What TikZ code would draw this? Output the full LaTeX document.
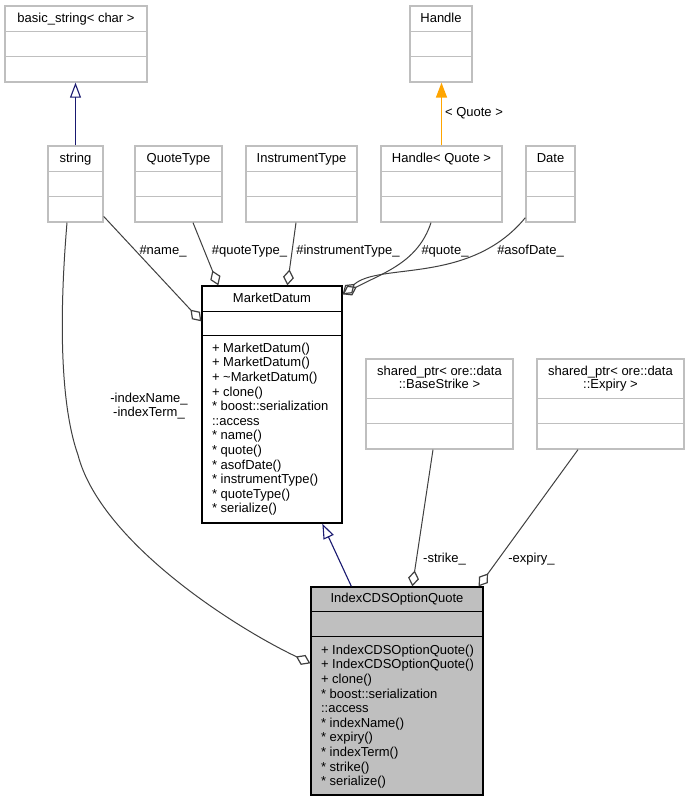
\documentclass[tikz,border=0pt]{standalone}
\usepackage{fontspec}
\setmainfont{Liberation Sans}
\usetikzlibrary{arrows.meta,calc}

\definecolor{edgegray}{HTML}{404040}
\definecolor{boxgray}{HTML}{BFBFBF}
\definecolor{inhblue}{HTML}{191970}
\definecolor{tplorange}{HTML}{FFA500}

% two horizontal compartment rules inside a class box
\newcommand\classrules[4]{%
  \draw[#1] ($(#2.north west)+(0,#3)$) -- ($(#2.north east)+(0,#3)$);
  \draw[#1] ($(#2.north west)+(0,#4)$) -- ($(#2.north east)+(0,#4)$);}

\begin{document}
\begin{tikzpicture}[x=1pt,y=-1pt,
  font=\fontsize{13}{14.6}\selectfont,
  classbox/.style={draw=boxgray, line width=1.3pt, rectangle, inner sep=0pt, fill=white},
  mainbox/.style={draw=black, line width=1.3pt, rectangle, inner sep=0pt},
  greyrule/.style={draw=boxgray, line width=1.3pt},
  blackrule/.style={draw=black, line width=1.3pt},
  title/.style={anchor=base, inner sep=0pt},
  member/.style={anchor=base west, inner sep=0pt},
  lbl/.style={anchor=base, inner sep=0pt},
  inherit/.style={color=inhblue, line width=1.1pt, -{Triangle[open, length=15pt, width=11pt]}},
  usage/.style={color=edgegray, line width=1pt, -{Diamond[open, length=16pt, width=11pt, line width=1.2pt]}},
  tmpl/.style={color=tplorange, line width=1.5pt, -{Triangle[length=15pt, width=11pt]}},
]
\fill[white] (0,0) rectangle (689,801);
\useasboundingbox (0,0) rectangle (689,801);

% ---- class boxes ----
\node[classbox, minimum width=142pt, minimum height=76pt] (bstr) at (76,44) {};
\node[classbox, minimum width=55pt, minimum height=76pt] (string) at (75.5,184) {};
\node[classbox, minimum width=87pt, minimum height=76pt] (qt) at (178.5,184) {};
\node[classbox, minimum width=111pt, minimum height=76pt] (it) at (301.5,184) {};
\node[classbox, minimum width=62pt, minimum height=76pt] (handle) at (441,44) {};
\node[classbox, minimum width=121pt, minimum height=76pt] (hq) at (441.5,184) {};
\node[classbox, minimum width=49pt, minimum height=76pt] (date) at (550.5,184) {};
\node[mainbox, fill=white, minimum width=140pt, minimum height=237pt] (md) at (272,404.5) {};
\node[classbox, minimum width=147pt, minimum height=90pt] (bs) at (439.5,404) {};
\node[classbox, minimum width=147pt, minimum height=90pt] (ex) at (610.5,404) {};
\node[mainbox, fill=boxgray, minimum width=172pt, minimum height=208pt] (idx) at (397,691) {};

\classrules{greyrule}{bstr}{26}{51}
\classrules{greyrule}{string}{26}{51}
\classrules{greyrule}{qt}{26}{51}
\classrules{greyrule}{it}{26}{51}
\classrules{greyrule}{handle}{26}{51}
\classrules{greyrule}{hq}{26}{51}
\classrules{greyrule}{date}{26}{51}
\classrules{blackrule}{md}{26}{50}
\classrules{greyrule}{bs}{40}{65}
\classrules{greyrule}{ex}{40}{65}
\classrules{blackrule}{idx}{25}{50}

% ---- class names ----
\node[title] (bstr-t) at ($(bstr.north)+(0,17.5)$) {basic\_string< char >};
\node[title] (string-t) at ($(string.north)+(0,17.5)$) {string};
\node[title] (qt-t) at ($(qt.north)+(0,17.5)$) {QuoteType};
\node[title] (it-t) at ($(it.north)+(0,17.5)$) {InstrumentType};
\node[title] (handle-t) at ($(handle.north)+(0,17.5)$) {Handle};
\node[title] (hq-t) at ($(hq.north)+(0,17.5)$) {Handle< Quote >};
\node[title] (date-t) at ($(date.north)+(0,17.5)$) {Date};
\node[title] (md-t) at ($(md.north)+(0,17)$) {MarketDatum};
\node[title] (bs-t1) at ($(bs.north)+(0,17.5)$) {shared\_ptr< ore::data};
\node[title] (bs-t2) at ($(bs.north)+(0,30.5)$) {::BaseStrike >};
\node[title] (ex-t1) at ($(ex.north)+(0,17.5)$) {shared\_ptr< ore::data};
\node[title] (ex-t2) at ($(ex.north)+(0,30.5)$) {::Expiry >};
\node[title] (idx-t) at ($(idx.north)+(0,16.5)$) {IndexCDSOptionQuote};

% ---- member lists ----
\foreach \m [count=\i from 0] in {+ MarketDatum(), + MarketDatum(),
    + \textasciitilde MarketDatum(), + clone(), * boost::serialization,
    ::access, * name(), * quote(), * asofDate(), * instrumentType(),
    * quoteType(), * serialize()}
  \node[member] (md-m\i) at ($(md.north west)+(10.5,{67+14.6*\i})$) {\m};

\foreach \m [count=\i from 0] in {+ IndexCDSOptionQuote(), + IndexCDSOptionQuote(),
    + clone(), * boost::serialization, ::access, * indexName(), * expiry(),
    * indexTerm(), * strike(), * serialize()}
  \node[member] (idx-m\i) at ($(idx.north west)+(10.5,{68+14.6*\i})$) {\m};

% ---- generalisation and template edges ----
\draw[inherit] (string.north) -- (string.north |- bstr.south);
\draw[tmpl] (hq.north) -- (hq.north |- handle.south);
\draw[inherit] ([xshift=41pt]idx.north west) -- ([xshift=121pt]md.south west);

% ---- aggregation edges ----
\draw[usage] (string.-49) -- ([yshift=-36pt]md.north west);
\draw[usage] ([xshift=14.5pt]qt.south) -- ([xshift=17pt]md.north west);
\draw[usage] ([xshift=-5.5pt]it.south) -- ([xshift=86pt]md.north west);
\draw[usage] ([xshift=-10.5pt]hq.south) .. controls (418,262) and (385,272) .. ([yshift=-9pt]md.north east);
\draw[usage] ([yshift=5pt]date.south west) .. controls (470,285) and (380,262) .. ([yshift=-9pt]md.north east);
\draw[usage] ([xshift=-6.5pt]bs.south) -- ([xshift=102pt]idx.north west);
\draw[usage] ([xshift=-32.5pt]ex.south) -- ([xshift=-5pt]idx.north east);
\draw[usage] ([xshift=-8.5pt]string.south) .. controls (58,330) and (62,410) .. (78,455)
  .. controls (100,540) and (230,625) .. ([yshift=-77pt]idx.north west);

% ---- edge labels ----
\node[lbl] (l-tpl) at (474,116) {< Quote >};
\node[lbl] (l-name) at (163,254) {\#name\_};
\node[lbl] (l-qt) at (249.5,254) {\#quoteType\_};
\node[lbl] (l-it) at (348,254) {\#instrumentType\_};
\node[lbl] (l-quote) at (445,254) {\#quote\_};
\node[lbl] (l-date) at (530.5,254) {\#asofDate\_};
\node[lbl] (l-iname) at (149,402) {-indexName\_};
\node[lbl] (l-iterm) at (149,416) {-indexTerm\_};
\node[lbl] (l-strike) at (444.5,562) {-strike\_};
\node[lbl] (l-expiry) at (531.5,562) {-expiry\_};
\end{tikzpicture}
\end{document}
